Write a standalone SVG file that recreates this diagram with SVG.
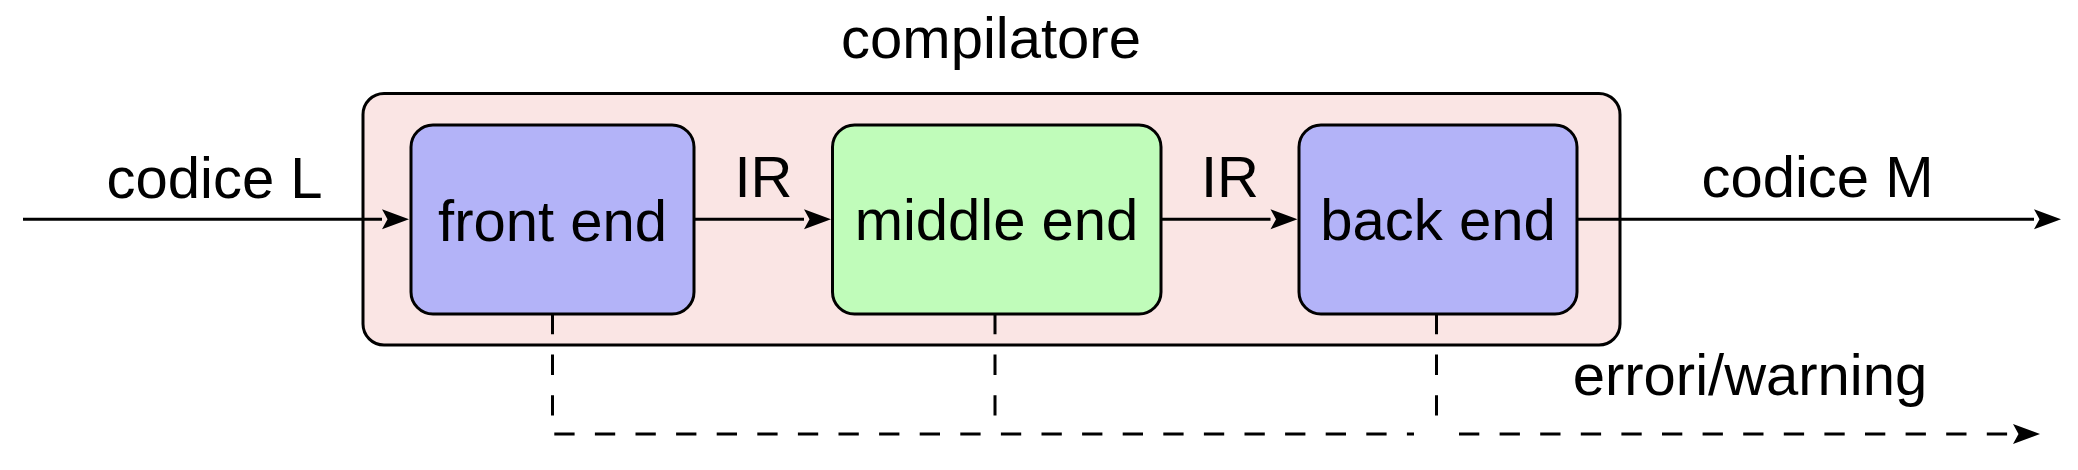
<svg xmlns="http://www.w3.org/2000/svg" width="2078" height="470" viewBox="0 0 2078 470">
<style>
text{font-family:"Liberation Sans",Arial,sans-serif;font-size:58px;fill:#000;text-anchor:middle}
.box{stroke:#000;stroke-width:3}
.line{fill:none;stroke:#000;stroke-width:3}
.dash{fill:none;stroke:#000;stroke-width:3;stroke-dasharray:20.3 20.3}
</style>
<defs>
<marker id="arr" markerUnits="userSpaceOnUse" markerWidth="30" markerHeight="24" viewBox="0 -12 30 24" refX="0" refY="0" orient="auto" overflow="visible">
<path d="M0,-10 L27,0 L0,10 L5.5,0 Z" fill="#000"/>
</marker>
</defs>
<rect width="2078" height="470" fill="#fff"/>
<g id="compilatore">
<rect class="box" x="363" y="93.5" width="1257" height="251.5" rx="21" fill="#FAE5E4"/>
<text x="991" y="58">compilatore</text>
</g>
<g id="front-end">
<rect class="box" x="411" y="125" width="283" height="189" rx="22" fill="#B3B3F8"/>
<text x="552.5" y="241">front end</text>
</g>
<g id="middle-end">
<rect class="box" x="832.5" y="125" width="328.5" height="189" rx="22" fill="#C0FCBA"/>
<text x="996.5" y="240">middle end</text>
</g>
<g id="back-end">
<rect class="box" x="1299" y="125" width="278" height="189" rx="22" fill="#B3B3F8"/>
<text x="1438" y="240">back end</text>
</g>
<g id="connectors">
<path class="line" d="M23,219.3 H382" marker-end="url(#arr)"/>
<text x="214.5" y="198">codice L</text>
<path class="line" d="M694,219.3 H804" marker-end="url(#arr)"/>
<text x="763.5" y="197">IR</text>
<path class="line" d="M1161,219.3 H1270.5" marker-end="url(#arr)"/>
<text x="1230" y="197">IR</text>
<path class="line" d="M1577,219.3 H2034" marker-end="url(#arr)"/>
<text x="1817.5" y="197">codice M</text>
<path class="dash" d="M552.5,314 V434 H1414"/>
<path class="dash" d="M995,314 V434"/>
<path class="dash" d="M1436.5,314 V434"/>
<path class="dash" d="M1459,434 H2013" marker-end="url(#arr)"/>
<text x="1750" y="395">errori/warning</text>
</g>
</svg>
